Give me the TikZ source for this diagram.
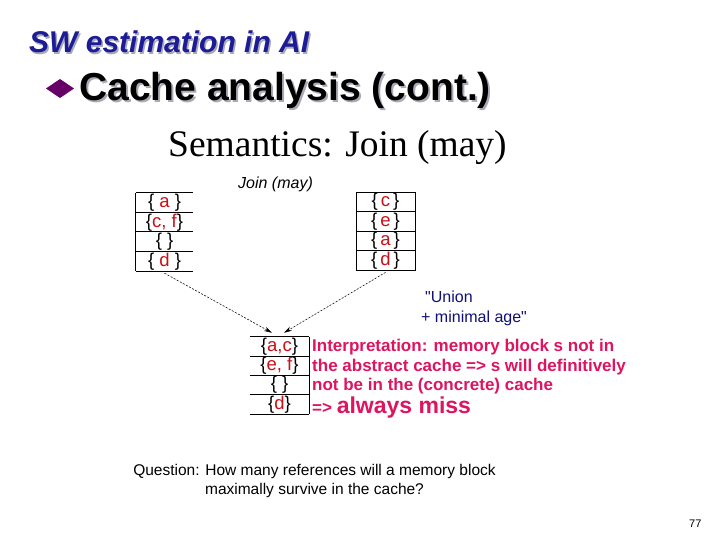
\documentclass[tikz,border=0pt]{standalone}
\usepackage{fontspec}
\setmainfont{Liberation Sans}
\newfontfamily\timesface{Liberation Serif}
\usetikzlibrary{arrows.meta}

\definecolor{titleblue}{RGB}{28,28,150}
\definecolor{bulletpurple}{RGB}{102,0,102}
\definecolor{setred}{RGB}{200,16,24}
\definecolor{unionblue}{RGB}{16,16,120}
\definecolor{notered}{RGB}{222,20,96}
\definecolor{shadowgray}{RGB}{170,170,182}

\newcommand{\cset}[1]{\{\textcolor{setred}{#1}\}}

\tikzset{
  cell/.style={minimum width=57pt, minimum height=19.5pt, inner sep=0pt, font=\fontsize{18.5}{18.5}\selectfont},
  label/.style={anchor=base west, inner sep=0pt},
  note/.style={label, text=notered, font=\bfseries\fontsize{17}{17}\selectfont},
  flow/.style={-{Stealth[length=8pt,width=4.5pt]}, dash pattern=on 2pt off 1.5pt, line width=0.55pt},
}

\begin{document}
\begin{tikzpicture}[x=1pt, y=-1pt]
  \fill[white] (0,0) rectangle (720,540);
  \node (headshadow) [label, text=shadowgray, font=\bfseries\itshape\fontsize{30}{30}\selectfont] at (30.5,54.5) {SW estimation in AI};
  \node (headline) [label, text=titleblue, font=\bfseries\itshape\fontsize{30}{30}\selectfont] at (29,53) {SW estimation in AI};
  \fill[bulletpurple] (46,88.5) -- (60,79) -- (74,88.5) -- (60,98) -- cycle;
  \node (topicshadow) [label, text=shadowgray, font=\bfseries\fontsize{39}{39}\selectfont] at (81,103) {Cache analysis (cont.)};
  \node (topic) [label, font=\bfseries\fontsize{39}{39}\selectfont] at (79,101) {Cache analysis (cont.)};
  \node (subtitle) [label, font=\timesface\fontsize{37.5}{37.5}\selectfont] at (168,157) {Semantics: Join (may)};
  \node (joinlabel) [label, font=\itshape\fontsize{16}{16}\selectfont] at (238,189) {Join (may)};

  \node (l1) [cell] at (164.5,202.75) {\cset{\ a\ }};
  \node (l2) [cell] at (164.5,222.25) {\cset{c, f}};
  \node (l3) [cell] at (164.5,241.75) {\{\ \}};
  \node (l4) [cell] at (164.5,261.25) {\cset{\ d\ }};
  \draw[line width=0.8pt] (l1.north west) -- (l4.south west);
  \draw[line width=0.8pt] (l1.north west) -- (l1.north east) (l2.north west) -- (l2.north east)
    (l3.north west) -- (l3.north east) (l4.north west) -- (l4.north east) (l4.south west) -- (l4.south east);

  \node (r1) [cell, draw, line width=0.8pt, minimum width=59pt] at (385.5,201.75) {\cset{\,c\,}};
  \node (r2) [cell, draw, line width=0.8pt, minimum width=59pt] at (385.5,221.25) {\cset{\,e\,}};
  \node (r3) [cell, draw, line width=0.8pt, minimum width=59pt] at (385.5,240.75) {\cset{\,a\,}};
  \node (r4) [cell, draw, line width=0.8pt, minimum width=59pt] at (385.5,260.25) {\cset{\,d\,}};

  \node (b1) [cell, minimum width=59pt, minimum height=19.25pt] at (279.5,346.6) {\cset{a,c}};
  \node (b2) [cell, minimum width=59pt, minimum height=19.25pt] at (279.5,365.9) {\cset{e, f}};
  \node (b3) [cell, minimum width=59pt, minimum height=19.25pt] at (279.5,385.1) {\{\ \}};
  \node (b4) [cell, minimum width=59pt, minimum height=19.25pt] at (279.5,404.4) {\cset{d}};
  \draw[line width=0.8pt] (b1.north east) -- (b4.south east);
  \draw[line width=0.8pt] (b1.north west) -- (b1.north east) (b2.north west) -- (b2.north east)
    (b3.north west) -- (b3.north east) (b4.north west) -- (b4.north east) (b4.south west) -- (b4.south east);

  \draw[flow] ([yshift=-2pt]l4.south) -- ([xshift=-7.5pt,yshift=4pt]b1.north);
  \draw[flow] ([yshift=-2pt]r4.south) -- ([xshift=4.5pt,yshift=4pt]b1.north);

  \node (union1) [label, text=unionblue, font=\fontsize{16}{16}\selectfont] at (425,302) {\textquotedbl Union};
  \node (union2) [label, text=unionblue, font=\fontsize{16}{16}\selectfont] at (421,322) {+ minimal age\textquotedbl};

  \node (note1) [note] at (312,351) {Interpretation: memory block s not in};
  \node (note2) [note] at (312,371) {the abstract cache => s will definitively};
  \node (note3) [note] at (312,390) {not be in the (concrete) cache};
  \node (note4) [note] at (312,413) {=> {\fontsize{23}{23}\selectfont always miss}};

  \node (question1) [anchor=base, inner sep=0pt, font=\fontsize{15.5}{15.5}\selectfont] at (314.5,475) {Question: How many references will a memory block};
  \node (question2) [anchor=base, inner sep=0pt, font=\fontsize{15.5}{15.5}\selectfont] at (314.5,494) {maximally survive in the cache?};
  \node (pageno) [label, font=\fontsize{11}{11}\selectfont] at (689,527) {77};
\end{tikzpicture}
\end{document}
